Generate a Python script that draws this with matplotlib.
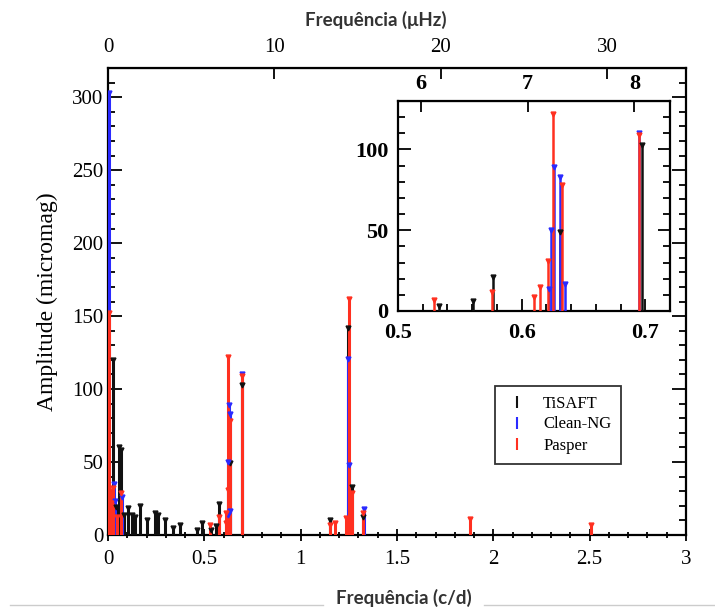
import numpy as np
import matplotlib
matplotlib.use("Agg")
import matplotlib.pyplot as plt
from matplotlib.lines import Line2D
from matplotlib.ticker import MultipleLocator

# ==================== dados (freq em c/d, amplitude em micromag) ====================

tisaft_f = [0.026, 0.040, 0.055, 0.070, 0.085, 0.105, 0.125, 0.140, 0.166, 0.200,
            0.244, 0.260, 0.296, 0.337, 0.374, 0.460, 0.486, 0.533, 0.561, 0.577,
            0.631, 0.697, 1.152, 1.247, 1.265, 1.322]
tisaft_a = [120, 19, 60, 58, 14, 18.5, 14, 12.5, 20, 10,
            15, 14, 10, 5, 7, 3.4, 8, 3.3, 6, 21,
            49, 103, 10, 142, 33, 12.5]

clean_f = [0.004, 0.031, 0.034, 0.073, 0.622, 0.624, 0.626, 0.631, 0.635, 0.695,
           1.246, 1.249, 1.328]
clean_a = [303, 35, 23, 26, 13.6, 50, 89, 83, 16.5, 110,
           120.5, 48, 18]

pasper_f = [0.006, 0.012, 0.018, 0.026, 0.045, 0.070, 0.529, 0.576, 0.610, 0.615,
            0.621, 0.625, 0.633, 0.695, 1.150, 1.178, 1.235, 1.252, 1.265, 1.325,
            1.879, 2.505]
pasper_a = [152, 30, 22, 32, 12, 29, 7, 12, 8.5, 15,
            31, 122, 78, 109, 7, 8, 11.6, 162, 28.7, 15,
            11, 7]

series = [("TiSAFT", tisaft_f, tisaft_a, "#111111"),
          ("Clean-NG", clean_f, clean_a, "#2a2aff"),
          ("Pasper", pasper_f, pasper_a, "#ff3020")]

def cd2uhz(x):
    return np.asarray(x) * 1e6 / 86400.0

def uhz2cd(x):
    return np.asarray(x) * 86400.0 / 1e6

SERIF = "Liberation Serif"
SANS = "Lato"

# ==================== figura ====================

W, H = 715, 609
fig = plt.figure(figsize=(W / 100, H / 100), dpi=100)

def px_axes(l, t, r, b):
    return fig.add_axes([l / W, 1 - b / H, (r - l) / W, (b - t) / H])

ax = px_axes(108, 68, 686, 535)

for name, f, a, c in series:
    ax.vlines(f, 0, a, color=c, lw=2.2, zorder=3)
    ax.plot(f, a, "v", color=c, ms=3.5, zorder=4)

ax.set_xlim(0, 3)
ax.set_ylim(0, 320)
ax.xaxis.set_major_locator(MultipleLocator(0.5))
ax.xaxis.set_minor_locator(MultipleLocator(0.1))
ax.yaxis.set_major_locator(MultipleLocator(50))
ax.yaxis.set_minor_locator(MultipleLocator(10))
ax.set_xticks([0, 0.5, 1, 1.5, 2, 2.5, 3], ["0", "0.5", "1", "1.5", "2", "2.5", "3"])
ax.tick_params(axis="y", which="both", direction="in", left=True, right=True, width=1.3)
ax.tick_params(axis="y", which="major", length=10)
ax.tick_params(axis="y", which="minor", length=5)
ax.tick_params(axis="x", which="both", direction="inout", top=False, width=1.3)
ax.tick_params(axis="x", which="major", length=9, pad=6)
ax.tick_params(axis="x", which="minor", length=5)
for lab in ax.get_xticklabels() + ax.get_yticklabels():
    lab.set_fontfamily(SERIF)
    lab.set_fontsize(15)
for s in ax.spines.values():
    s.set_linewidth(1.6)
ax.set_ylabel("Amplitude (micromag)", fontfamily=SERIF, fontsize=17, labelpad=10)

top = ax.secondary_xaxis("top", functions=(cd2uhz, uhz2cd))
top.set_xticks([0, 10, 20, 30])
top.tick_params(direction="in", length=8, width=1.3, pad=8)
for lab in top.get_xticklabels():
    lab.set_fontfamily(SERIF)
    lab.set_fontsize(15)

fig.text(376 / W, 1 - 20 / H, "Frequência (μHz)", fontfamily=SANS, fontweight="bold",
         fontsize=13.5, color="#333333", ha="center", va="center")

# linha cinzenta e titulo inferior
fig.add_artist(Line2D([10 / W, 323 / W], [1 - 605 / H] * 2, color="#cccccc", lw=1))
fig.add_artist(Line2D([484 / W, 715 / W], [1 - 605 / H] * 2, color="#cccccc", lw=1))
fig.text(404 / W, 1 - 598 / H, "Frequência (c/d)", fontfamily=SANS, fontweight="bold",
         fontsize=13.5, color="#333333", ha="center", va="center")

# legenda
handles = [Line2D([], [], color=c, marker="|", linestyle="None", ms=9, mew=1.5)
           for _, _, _, c in series]
leg = ax.legend(handles, [s[0] for s in series], loc="center",
                bbox_to_anchor=(558 / W, 1 - 424.5 / H), bbox_transform=fig.transFigure,
                prop={"family": SERIF, "size": 12}, frameon=True, fancybox=False,
                edgecolor="black", handlelength=1.5, labelspacing=0.3, borderpad=0.6)
leg.get_frame().set_linewidth(1.3)

# ==================== inset ====================

ins = px_axes(398, 101, 670, 311)
for name, f, a, c in series:
    ins.vlines(f, 0, a, color=c, lw=1.8, zorder=3)
    ins.plot(f, a, "v", color=c, ms=3.5, zorder=4)

ins.set_xlim(0.5, 0.72)
ins.set_ylim(0, 130)
ins.set_xticks([0.5, 0.6, 0.7], ["0.5", "0.6", "0.7"])
ins.xaxis.set_minor_locator(MultipleLocator(0.02))
ins.set_yticks([0, 50, 100], ["0", "50", "100"])
ins.yaxis.set_minor_locator(MultipleLocator(10))
ins.tick_params(which="both", direction="in", left=True, right=True, top=False, width=1.3)
ins.tick_params(which="major", length=9)
ins.tick_params(axis="x", which="major", pad=9)
ins.tick_params(axis="y", which="major", pad=7)
ins.tick_params(which="minor", length=5)
for lab in ins.get_xticklabels() + ins.get_yticklabels():
    lab.set_fontfamily(SERIF)
    lab.set_fontsize(16)
    lab.set_fontweight("bold")
for s in ins.spines.values():
    s.set_linewidth(1.6)

itop = ins.secondary_xaxis("top", functions=(cd2uhz, uhz2cd))
itop.set_xticks([6, 7, 8])
itop.tick_params(direction="in", length=8, width=1.3, pad=5)
for lab in itop.get_xticklabels():
    lab.set_fontfamily(SERIF)
    lab.set_fontsize(16)
    lab.set_fontweight("bold")

fig.savefig("out.png", dpi=100)
